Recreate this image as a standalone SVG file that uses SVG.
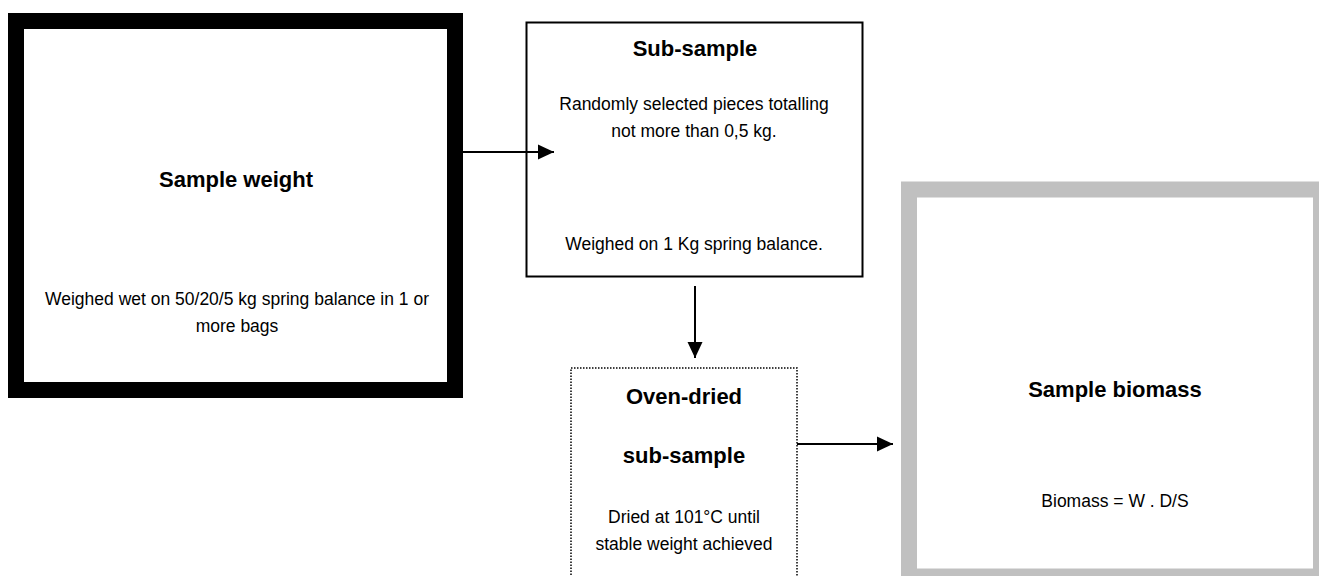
<svg xmlns="http://www.w3.org/2000/svg" width="1319" height="576" viewBox="0 0 1319 576">
<style>
text{font-family:"Liberation Sans",Arial,sans-serif;fill:#000;text-anchor:middle}
.t{font-size:22px;font-weight:bold}
.b{font-size:17.5px}
.ln{stroke:#000;stroke-width:2;fill:none}
</style>
<defs>
<marker id="ah" markerWidth="16" markerHeight="16" refX="16" refY="8" orient="auto" markerUnits="userSpaceOnUse">
<path d="M0,0.5 L16,8 L0,15.5 Z" fill="#000"/>
</marker>
</defs>
<rect width="1319" height="576" fill="#fff"/>
<g id="sample-weight">
<rect x="16" y="21" width="439" height="369" fill="#fff" stroke="#000" stroke-width="16"/>
<text class="t" x="236" y="187">Sample weight</text>
<text class="b" x="237" y="305">Weighed wet on 50/20/5 kg spring balance in 1 or</text>
<text class="b" x="237" y="332">more bags</text>
</g>
<g id="sub-sample">
<rect x="526.5" y="22.5" width="336" height="254" fill="#fff" stroke="#000" stroke-width="2"/>
<text class="t" x="695" y="56">Sub-sample</text>
<text class="b" x="694" y="110">Randomly selected pieces totalling</text>
<text class="b" x="694" y="137">not more than 0,5 kg.</text>
<text class="b" x="694" y="250">Weighed on 1 Kg spring balance.</text>
</g>
<g id="oven-dried">
<rect x="571" y="368" width="226" height="230" fill="#fff" stroke="#000" stroke-width="1.5" stroke-dasharray="1.5,1.5"/>
<text class="t" x="684" y="404">Oven-dried</text>
<text class="t" x="684" y="463">sub-sample</text>
<text class="b" x="684" y="523">Dried at 101°C until</text>
<text class="b" x="684" y="550">stable weight achieved</text>
</g>
<g id="sample-biomass">
<rect x="909" y="189.5" width="412" height="387" fill="#fff" stroke="#c0c0c0" stroke-width="16"/>
<text class="t" x="1115" y="397">Sample biomass</text>
<text class="b" x="1115" y="507">Biomass = W . D/S</text>
</g>
<g id="connectors">
<line class="ln" x1="463" y1="152" x2="554" y2="152" marker-end="url(#ah)"/>
<line class="ln" x1="695" y1="286" x2="695" y2="358" marker-end="url(#ah)"/>
<line class="ln" x1="797" y1="444" x2="893" y2="444" marker-end="url(#ah)"/>
</g>
</svg>
